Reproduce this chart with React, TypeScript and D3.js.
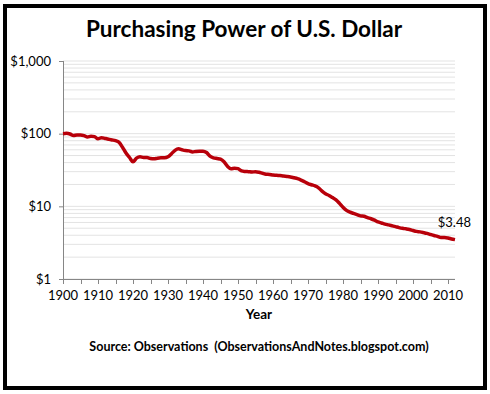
import * as d3 from 'd3';

// purchasing power of $100 from 1900, by year
const startYear = 1900;
const values = [
  100, 101, 99, 94, 96, 96, 94, 90, 92, 91,
  85, 88, 86, 84, 82, 80, 76, 65, 54, 47,
  41, 46, 48, 47, 47, 45.5, 45, 46, 46.5, 46.5,
  48, 53, 59, 62, 60, 58.5, 58, 56, 57, 57.5,
  57.5, 55, 49, 46.5, 45.5, 44.5, 41, 35.5, 33, 33.5,
  33, 30.8, 30.2, 30, 29.7, 29.9, 29.4, 28.5, 27.7, 27.5,
  27, 26.8, 26.5, 26.1, 25.8, 25.4, 24.7, 24, 23, 21.8,
  20.6, 19.8, 19.1, 18, 16.2, 14.9, 14.1, 13.2, 12.3, 11,
  9.7, 8.8, 8.3, 8.0, 7.7, 7.4, 7.3, 7.0, 6.75, 6.45,
  6.1, 5.9, 5.7, 5.55, 5.4, 5.25, 5.1, 4.98, 4.9, 4.8,
  4.65, 4.52, 4.45, 4.35, 4.24, 4.1, 3.97, 3.86, 3.72, 3.73,
  3.67, 3.56, 3.48,
];
const xTickLabels = [1900, 1910, 1920, 1930, 1940, 1950, 1960, 1970, 1980, 1990, 2000, 2010];
const yTickLabels = [1, 10, 100, 1000];
const endLabel = '$3.48';

const W = 490;
const H = 394;
const font = 'Lato, "Open Sans", sans-serif';

export default function App() {
  const data = values.map((v, i) => ({ year: startYear + i, v }));

  const x = d3.scaleLinear().domain([1900, 2012]).range([63, 455]);
  const y = d3.scaleLog().domain([1, 1000]).range([279, 61]);

  const line = d3.line<{ year: number; v: number }>()
    .x(d => x(d.year))
    .y(d => y(d.v))
    .curve(d3.curveMonotoneX);

  const grid = y.ticks();
  const minorX = d3.range(1900, 2011, 5);
  const fmt = d3.format('$,');
  const last = data[data.length - 1];

  return (
    <svg width={W} height={H} style={{ position: 'absolute', left: 0, top: 0, background: '#fff' }}
      fontFamily={font}>
      <rect x={5} y={6} width={480} height={382} fill="#fff" stroke="#000" strokeWidth={4} />

      <text x={244} y={37} textAnchor="middle" fontSize={22.5} fontWeight="bold" fill="#000">
        Purchasing Power of U.S. Dollar
      </text>

      {/* gridlines */}
      {grid.map(t => (
        <line key={t} x1={x(1900)} x2={x(2012)} y1={y(t)} y2={y(t)} stroke="#e3e3e3" strokeWidth={1} />
      ))}

      {/* y axis */}
      <line x1={63.5} x2={63.5} y1={y(1000)} y2={y(1)} stroke="#868686" />
      {yTickLabels.map(t => (
        <g key={t}>
          <line x1={59} x2={63} y1={y(t) + 0.5} y2={y(t) + 0.5} stroke="#868686" />
          <text x={51} y={y(t) + 4.5} textAnchor="end" fontSize={13} fill="#000">{fmt(t)}</text>
        </g>
      ))}

      {/* x axis */}
      <line x1={x(1900)} x2={x(2012)} y1={279.5} y2={279.5} stroke="#868686" />
      {minorX.map(t => (
        <line key={t} x1={Math.round(x(t)) + 0.5} x2={Math.round(x(t)) + 0.5} y1={279} y2={284} stroke="#868686" />
      ))}
      {xTickLabels.map(t => (
        <text key={t} x={x(t)} y={300} textAnchor="middle" fontSize={13} fill="#000">{t}</text>
      ))}

      <path d={line(data) ?? ''} fill="none" stroke="#b8000a" strokeWidth={3.5} strokeLinejoin="round" />

      <text x={x(last.year) + 16} y={227} textAnchor="end" fontSize={13} fill="#000">{endLabel}</text>

      <text x={259} y={319} textAnchor="middle" fontSize={13.5} fontWeight="bold" fill="#000">Year</text>
      <text x={259} y={351} textAnchor="middle" fontSize={12.5} fontWeight="bold" fill="#000"
        style={{ whiteSpace: 'pre' }}>
        {'Source: Observations  (ObservationsAndNotes.blogspot.com)'}
      </text>
    </svg>
  );
}
